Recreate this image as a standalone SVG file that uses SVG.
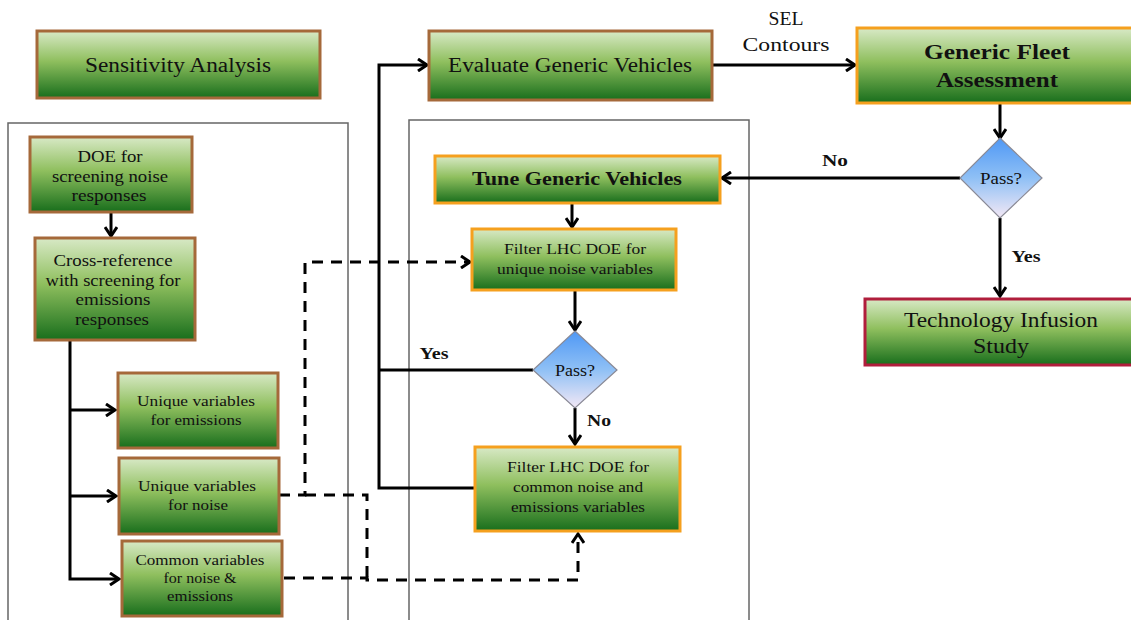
<svg xmlns="http://www.w3.org/2000/svg" width="1131" height="620" viewBox="0 0 1131 620" font-family="'Liberation Serif', 'DejaVu Serif', 'Times New Roman', serif">
<defs>
<linearGradient id="g" x1="0" y1="0" x2="0" y2="1">
<stop offset="0" stop-color="#d8e9c6"/>
<stop offset="0.45" stop-color="#8fbf5e"/>
<stop offset="1" stop-color="#186e1c"/>
</linearGradient>
<linearGradient id="d" x1="0" y1="0" x2="0" y2="1">
<stop offset="0" stop-color="#4f98f5"/>
<stop offset="0.5" stop-color="#8fc0f5"/>
<stop offset="1" stop-color="#f3e8f5"/>
</linearGradient>
<marker id="a" markerUnits="userSpaceOnUse" markerWidth="14" markerHeight="14" refX="11" refY="7" orient="auto">
<path d="M2,1 L11,7 L2,13" fill="none" stroke="#000" stroke-width="3"/>
</marker>
<style>
.box{fill:url(#g);stroke-width:3}
.br{stroke:#a5693a}
.or{stroke:#f5a01e}
.rd{stroke:#b01e3c}
.dia{fill:url(#d);stroke:#8a8a96;stroke-width:1.2}
.frame{fill:none;stroke:#666;stroke-width:1.5}
text{font-family:'Liberation Serif', 'DejaVu Serif', serif;fill:#111;text-anchor:middle}
.c{stroke:#000;stroke-width:3;fill:none}
.dash{stroke:#000;stroke-width:3;fill:none;stroke-dasharray:11 8}
.lb{font-weight:bold;font-size:17px}
</style>
</defs>

<rect class="frame" x="8" y="123" width="340" height="510"/>
<rect class="frame" x="409" y="120" width="340" height="515"/>

<g id="connectors">
<path class="c" d="M475 488 H379 V65 H427" marker-end="url(#a)"/>
<path class="c" d="M533 370 H379"/>
<path class="c" d="M712 65 H855" marker-end="url(#a)"/>
<path class="c" d="M1000 103 V138" marker-end="url(#a)"/>
<path class="c" d="M960 178 H722" marker-end="url(#a)"/>
<path class="c" d="M1000 218 V296" marker-end="url(#a)"/>
<path class="c" d="M572 203 V227" marker-end="url(#a)"/>
<path class="c" d="M575 290 V330" marker-end="url(#a)"/>
<path class="c" d="M575 408 V444" marker-end="url(#a)"/>
<path class="c" d="M111 212 V236" marker-end="url(#a)"/>
<path class="c" d="M70 340 V579 H119" marker-end="url(#a)"/>
<path class="c" d="M70 410 H115" marker-end="url(#a)"/>
<path class="c" d="M71 496 H116" marker-end="url(#a)"/>
<path class="dash" d="M279 495 H305 V262 H470" marker-end="url(#a)"/>
<path class="dash" d="M305 495 H367 V578"/>
<path class="dash" d="M284 578 H367 V580 H578 V534" marker-end="url(#a)"/>
<text x="786" y="25" font-size="18" textLength="35" lengthAdjust="spacingAndGlyphs">SEL</text>
<text x="786" y="51" font-size="18" textLength="87" lengthAdjust="spacingAndGlyphs">Contours</text>
<text class="lb" x="835" y="166" textLength="26" lengthAdjust="spacingAndGlyphs">No</text>
<text class="lb" x="1026" y="262" textLength="29" lengthAdjust="spacingAndGlyphs">Yes</text>
<text class="lb" x="434" y="359" textLength="29" lengthAdjust="spacingAndGlyphs">Yes</text>
<text class="lb" x="599" y="426" textLength="24" lengthAdjust="spacingAndGlyphs">No</text>
</g>

<g id="sensitivity">
<rect class="box br" x="37" y="31" width="283" height="67"/>
<text x="178" y="72" font-size="20" textLength="186" lengthAdjust="spacingAndGlyphs">Sensitivity Analysis</text>
</g>

<g id="evaluate">
<rect class="box br" x="429" y="31" width="283" height="69"/>
<text x="570" y="72" font-size="20" textLength="244" lengthAdjust="spacingAndGlyphs">Evaluate Generic Vehicles</text>
</g>

<g id="fleet">
<rect class="box or" x="857" y="28" width="280" height="75"/>
<text x="997" y="59" font-size="22" font-weight="bold" textLength="146" lengthAdjust="spacingAndGlyphs">Generic Fleet</text>
<text x="997" y="87" font-size="22" font-weight="bold" textLength="122" lengthAdjust="spacingAndGlyphs">Assessment</text>
</g>

<g id="pass1">
<polygon class="dia" points="1000,138 1042,178 1000,218 960,178"/>
<text x="1001" y="184" font-size="16" textLength="42" lengthAdjust="spacingAndGlyphs">Pass?</text>
</g>

<g id="tech">
<rect class="box rd" x="865" y="299" width="272" height="66"/>
<text x="1001" y="327" font-size="20" textLength="194" lengthAdjust="spacingAndGlyphs">Technology Infusion</text>
<text x="1001" y="353" font-size="20" textLength="56" lengthAdjust="spacingAndGlyphs">Study</text>
</g>

<g id="tune">
<rect class="box or" x="435" y="156" width="285" height="47"/>
<text x="577" y="185" font-size="18" font-weight="bold" textLength="210" lengthAdjust="spacingAndGlyphs">Tune Generic Vehicles</text>
</g>

<g id="filterUnique">
<rect class="box or" x="472" y="229" width="204" height="61"/>
<text x="575" y="254" font-size="14" textLength="142" lengthAdjust="spacingAndGlyphs">Filter LHC DOE  for</text>
<text x="575" y="274" font-size="14" textLength="156" lengthAdjust="spacingAndGlyphs">unique noise variables</text>
</g>

<g id="pass2">
<polygon class="dia" points="575,331 617,370 575,408 533,370"/>
<text x="575" y="376" font-size="16" textLength="40" lengthAdjust="spacingAndGlyphs">Pass?</text>
</g>

<g id="filterCommon">
<rect class="box or" x="475" y="447" width="205" height="84"/>
<text x="578" y="472" font-size="14.5" textLength="142" lengthAdjust="spacingAndGlyphs">Filter LHC DOE  for</text>
<text x="578" y="492" font-size="14.5" textLength="130" lengthAdjust="spacingAndGlyphs">common noise and</text>
<text x="578" y="512" font-size="14.5" textLength="134" lengthAdjust="spacingAndGlyphs">emissions variables</text>
</g>

<g id="doe">
<rect class="box br" x="30" y="137" width="162" height="75"/>
<text x="110" y="162" font-size="17" textLength="65" lengthAdjust="spacingAndGlyphs">DOE for</text>
<text x="110" y="182" font-size="17" textLength="116" lengthAdjust="spacingAndGlyphs">screening noise</text>
<text x="109" y="201" font-size="17" textLength="75" lengthAdjust="spacingAndGlyphs">responses</text>
</g>

<g id="crossref">
<rect class="box br" x="35" y="238" width="160" height="102"/>
<text x="113" y="266" font-size="17" textLength="119" lengthAdjust="spacingAndGlyphs">Cross-reference</text>
<text x="113" y="286" font-size="17" textLength="135" lengthAdjust="spacingAndGlyphs">with screening for</text>
<text x="113" y="305" font-size="17" textLength="75" lengthAdjust="spacingAndGlyphs">emissions</text>
<text x="112" y="325" font-size="17" textLength="74" lengthAdjust="spacingAndGlyphs">responses</text>
</g>

<g id="uniqueEmissions">
<rect class="box br" x="118" y="373" width="160" height="75"/>
<text x="196" y="406" font-size="15" textLength="118" lengthAdjust="spacingAndGlyphs">Unique variables</text>
<text x="196" y="425" font-size="15" textLength="91" lengthAdjust="spacingAndGlyphs">for emissions</text>
</g>

<g id="uniqueNoise">
<rect class="box br" x="119" y="458" width="160" height="76"/>
<text x="197" y="491" font-size="15" textLength="118" lengthAdjust="spacingAndGlyphs">Unique variables</text>
<text x="198" y="510" font-size="15" textLength="60" lengthAdjust="spacingAndGlyphs">for noise</text>
</g>

<g id="common">
<rect class="box br" x="122" y="541" width="160" height="75"/>
<text x="200" y="565" font-size="14" textLength="129" lengthAdjust="spacingAndGlyphs">Common variables</text>
<text x="200" y="583" font-size="14" textLength="73" lengthAdjust="spacingAndGlyphs">for noise &amp;</text>
<text x="200" y="601" font-size="14" textLength="66" lengthAdjust="spacingAndGlyphs">emissions</text>
</g>
</svg>
